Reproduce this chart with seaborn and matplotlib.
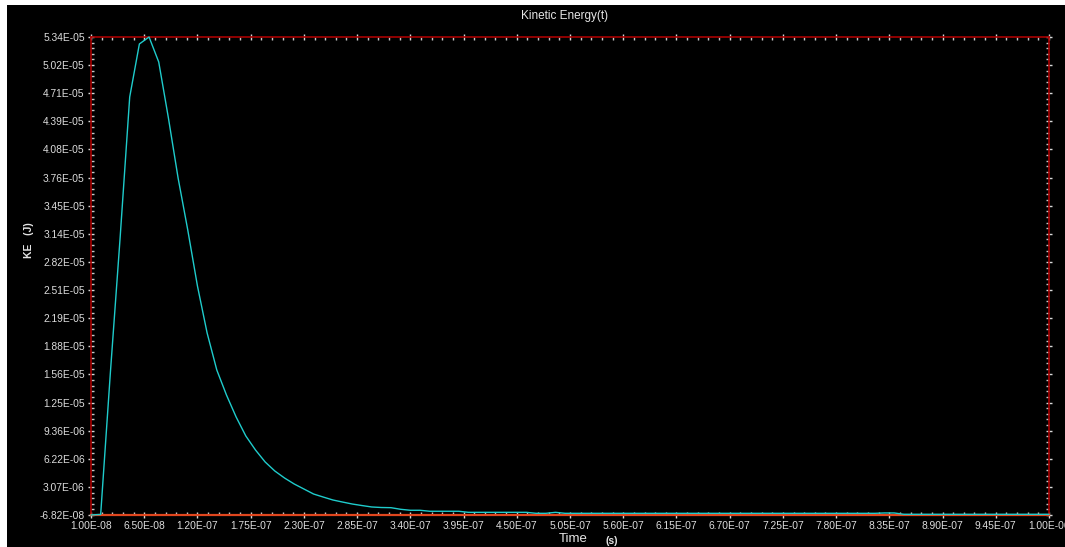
import numpy as np
import matplotlib
matplotlib.use("Agg")
import matplotlib.pyplot as plt
import seaborn as sns
from matplotlib.ticker import FixedLocator, AutoMinorLocator
from matplotlib.patches import Rectangle

# ---- data (time in ns, kinetic energy in microjoules) ----
time_ns = [10, 20, 30, 40, 50, 60, 70, 80, 90, 100, 110, 120, 130, 140, 150,
           160, 170, 180, 190, 200, 210, 220, 230, 240, 250, 260, 270, 280,
           290, 300, 310, 320, 330, 340, 350, 360, 370, 380, 390, 400, 420,
           440, 460, 470, 480, 490, 500, 520, 560, 600, 650, 700, 750, 800,
           820, 830, 840, 850, 900, 950, 1000]
ke_uj = [-0.068, 0.0, 15.82, 30.80, 46.69, 52.62, 53.40, 50.60, 44.34, 37.63,
         31.81, 25.55, 20.29, 16.15, 13.35, 10.89, 8.77, 7.20, 5.86, 4.85,
         4.07, 3.40, 2.84, 2.28, 1.94, 1.61, 1.38, 1.16, 0.99, 0.83, 0.77,
         0.75, 0.57, 0.46, 0.46, 0.35, 0.35, 0.35, 0.35, 0.23, 0.23, 0.23,
         0.23, 0.12, 0.12, 0.23, 0.12, 0.12, 0.12, 0.12, 0.12, 0.12, 0.12,
         0.12, 0.12, 0.16, 0.16, 0.01, 0.01, 0.01, 0.01]

x_tick_labels = ["1.00E-08", "6.50E-08", "1.20E-07", "1.75E-07", "2.30E-07",
                 "2.85E-07", "3.40E-07", "3.95E-07", "4.50E-07", "5.05E-07",
                 "5.60E-07", "6.15E-07", "6.70E-07", "7.25E-07", "7.80E-07",
                 "8.35E-07", "8.90E-07", "9.45E-07", "1.00E-06"]
y_tick_labels = ["-6.82E-08", "3.07E-06", "6.22E-06", "9.36E-06", "1.25E-05",
                 "1.56E-05", "1.88E-05", "2.19E-05", "2.51E-05", "2.82E-05",
                 "3.14E-05", "3.45E-05", "3.76E-05", "4.08E-05", "4.39E-05",
                 "4.71E-05", "5.02E-05", "5.34E-05"]

title = "Kinetic Energy(t)"
x_label = "Time"
x_unit = "(s)"
y_label = "KE   (J)"

x_min, x_max = 1.00e-08, 1.00e-06
y_min, y_max = -6.82e-08, 5.34e-05

t = np.array(time_ns) * 1e-9
ke = np.array(ke_uj) * 1e-6

sns.set_theme(style="dark")
plt.rcParams['font.family'] = ['Liberation Sans', 'DejaVu Sans']

fig = plt.figure(figsize=(10.65, 5.47), dpi=100, facecolor="white")
# black panel, leaving thin white strips at top and left
fig.patches.append(Rectangle((7 / 1065, 0), 1 - 7 / 1065, 1 - 5 / 547,
                             transform=fig.transFigure, facecolor="black",
                             edgecolor="none", zorder=-10))

ax = fig.add_axes([91 / 1065, 1 - 515 / 547, (1049 - 91) / 1065, (515 - 37) / 547])
ax.set_facecolor("black")
ax.grid(False)

sns.lineplot(x=t, y=ke, ax=ax, color="#1fcccc", linewidth=1.0, zorder=5,
             clip_on=False)

ax.set_xlim(x_min, x_max)
ax.set_ylim(y_min, y_max)

ax.xaxis.set_major_locator(FixedLocator(np.linspace(x_min, x_max, len(x_tick_labels))))
ax.yaxis.set_major_locator(FixedLocator(np.linspace(y_min, y_max, len(y_tick_labels))))
ax.set_xticklabels(x_tick_labels)
ax.set_yticklabels(y_tick_labels)
ax.xaxis.set_minor_locator(AutoMinorLocator(5))
ax.yaxis.set_minor_locator(AutoMinorLocator(5))

ax.tick_params(which="major", direction="inout", length=5, width=1,
               color="#d8d8d8", labelcolor="#dcdcdc", labelsize=7.4,
               top=True, right=True, bottom=True, left=True, pad=1.5)
ax.tick_params(which="minor", direction="in", length=2.5, width=1,
               color="#c8c8c8", top=True, right=True, bottom=True, left=True)
ax.tick_params(axis="y", which="major", pad=2)

for side in ["top", "left", "right"]:
    ax.spines[side].set_color("#a80000")
    ax.spines[side].set_linewidth(1.2)
    ax.spines[side].set_visible(True)
ax.spines["bottom"].set_color("#e0461e")
ax.spines["bottom"].set_linewidth(1.6)
ax.spines["bottom"].set_visible(True)
ax.spines["bottom"].set_zorder(4)

ax.set_xlabel("")
ax.set_ylabel("")

fig.text(565 / 1065, 1 - 16 / 547, title, color="#e6e6e6", fontsize=8.5,
         ha="center", va="center")
fig.text(573 / 1065, 1 - 539 / 547, x_label, color="#e6e6e6", fontsize=9.5,
         ha="center", va="center")
fig.text(612 / 1065, 1 - 541 / 547, x_unit, color="#e6e6e6", fontsize=7.5,
         fontweight="bold", ha="center", va="center")
fig.text(29 / 1065, 1 - 240 / 547, y_label, color="#e6e6e6", fontsize=7.5,
         fontweight="bold", ha="center", va="center", rotation=90)

fig.savefig("out.png", dpi=100, facecolor=fig.get_facecolor())
